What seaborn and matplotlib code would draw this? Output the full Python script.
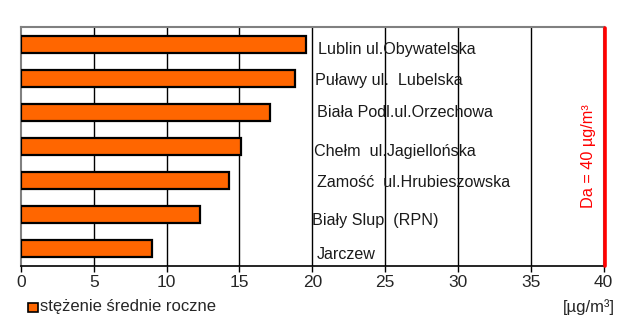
import matplotlib
matplotlib.use("Agg")
import matplotlib.pyplot as plt
import seaborn as sns
import pandas as pd
from matplotlib.patches import Rectangle

sns.set_style("white")
plt.rcParams['font.family'] = ['Liberation Sans', 'DejaVu Sans']

stations = ["Lublin ul.Obywatelska", "Puławy ul.  Lubelska", "Biała Podl.ul.Orzechowa",
            "Chełm  ul.Jagiellońska", "Zamość  ul.Hrubieszowska", "Biały Slup  (RPN)", "Jarczew"]
values = [19.55, 18.8, 17.1, 15.1, 14.3, 12.3, 9.0]
xticks = [0, 5, 10, 15, 20, 25, 30, 35, 40]
limit_value = 40
series_name = "stężenie średnie roczne"
unit = "[µg/m³]"
limit_label = "Da = 40 µg/m³"

# label placement (layout only)
label_x = [20.38, 20.2, 20.3, 20.15, 20.3, 20.0, 20.3]
label_dy = [0.15, 0.06, 0.0, 0.15, 0.07, 0.19, 0.18]

df = pd.DataFrame({"station": stations, "value": values})

fig = plt.figure(figsize=(6.3, 3.27), dpi=100)
ax = fig.add_axes([21/630, 1-265.5/327, (603.5-21)/630, (265.5-27)/327])

sns.barplot(data=df, y="station", x="value", orient="h", color="#FF6600",
            edgecolor="black", linewidth=1.6, width=0.5, saturation=1, ax=ax, zorder=3)

ax.set_xlim(0, 40)
ax.set_ylim(6.5, -0.5)
ax.set_xticks(xticks)
ax.set_xticklabels([str(t) for t in xticks], fontsize=12.5)
ax.set_yticks([])
ax.set_xlabel("")
ax.set_ylabel("")
ax.tick_params(axis="x", length=4, width=1, color="black", direction="out", pad=3, bottom=True)

for t in xticks[1:-1]:
    ax.axvline(t, color="black", lw=1, zorder=1)

for s in ["left", "top", "right"]:
    ax.spines[s].set_color("#808080")
    ax.spines[s].set_linewidth(1.5)
ax.spines["bottom"].set_color("black")
ax.spines["bottom"].set_linewidth(1.2)

ax.axvline(limit_value + 0.12, color="red", lw=2.6, zorder=5, clip_on=False, ymin=0, ymax=0.995)

for i, (name, lx, dy) in enumerate(zip(stations, label_x, label_dy)):
    ax.text(lx, i + dy, name, fontsize=11.6, va="center", ha="left", color="#1a1a1a", zorder=4)

ax.text(38.95, 3.3, limit_label, rotation=90, color="red", fontsize=11.7,
        ha="center", va="center")

# legend
fig.patches.append(Rectangle((28/630, 1-312/327), 10/630, 9/327, transform=fig.transFigure,
                             facecolor="#FF6600", edgecolor="black", lw=1.2))
fig.text(40/630, 1-307/327, series_name, fontsize=12, va="center", ha="left")
fig.text(615/630, 1-307/327, unit, fontsize=12, va="center", ha="right")

fig.savefig("out.png", dpi=100)
